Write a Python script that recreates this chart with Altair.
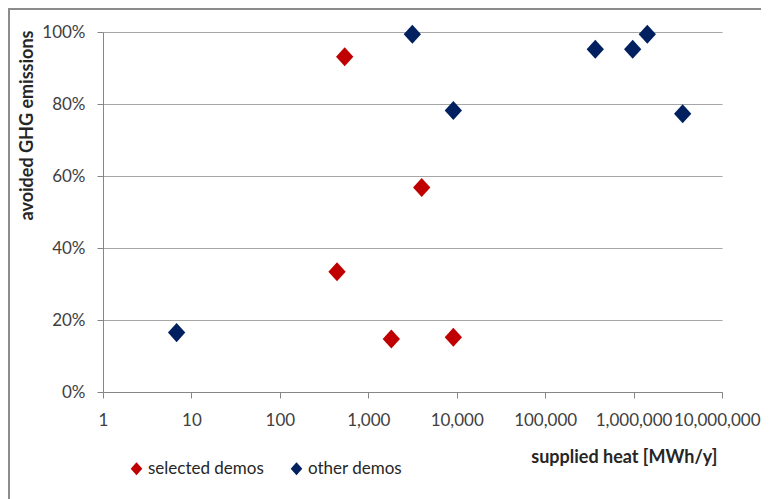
import altair as alt
import pandas as pd

# ---- data ----
selected_heat = [541, 4018, 443, 1822, 9160]
selected_avoided = [0.931, 0.568, 0.334, 0.147, 0.152]
other_heat = [6.8, 3150, 9160, 369000, 977000, 1430000, 3590000]
other_avoided = [0.165, 0.994, 0.782, 0.952, 0.952, 0.994, 0.773]
series_names = ["selected demos", "other demos"]
series_colors = ["#C00000", "#002060"]
x_ticks = [1, 10, 100, 1000, 10000, 100000, 1000000, 10000000]
y_ticks = [0, 0.2, 0.4, 0.6, 0.8, 1.0]

df = pd.DataFrame(
    {
        "heat": selected_heat + other_heat,
        "avoided": selected_avoided + other_avoided,
        "series": [series_names[0]] * len(selected_heat) + [series_names[1]] * len(other_heat),
    }
)

FONT = "Lato"
DIAMOND = "M0,-1.1L1,0L0,1.1L-1,0Z"
W, H = 619, 360

points = alt.Chart(df).mark_point(
    shape=DIAMOND, filled=True, size=300, opacity=1, strokeWidth=0
).encode(
    x=alt.X(
        "heat:Q",
        scale=alt.Scale(type="log", domain=[1, 1e7], nice=False),
        axis=alt.Axis(
            values=x_ticks,
            format=",",
            grid=False,
            labelFlush=False,
            labelOverlap=False,
            labelAlign={"expr": "datum.value >= 9999999 ? 'right' : 'center'"},
            labelOffset={"expr": "datum.value >= 9999999 ? 38 : 0"},
            tickSize=6,
            labelPadding=14,
            labelFontSize=17,
            labelColor="#404040",
            labelFont=FONT,
            domainColor="#868686",
            tickColor="#868686",
            title="supplied heat [MWh/y]",
            titleFont=FONT,
            titleFontSize=18,
            titleFontWeight="bold",
            titleColor="#262626",
            titleX=614,
            titleY=65,
            titleAlign="right",
            titleBaseline="middle",
            titleAnchor="end",
        ),
    ),
    y=alt.Y(
        "avoided:Q",
        scale=alt.Scale(domain=[0, 1], nice=False),
        axis=alt.Axis(
            values=y_ticks,
            format=".0%",
            grid=True,
            gridColor="#a6a6a6",
            tickSize=6,
            labelPadding=12,
            labelFontSize=17,
            labelColor="#404040",
            labelFont=FONT,
            domainColor="#868686",
            tickColor="#868686",
            title="avoided GHG emissions",
            titleFont=FONT,
            titleFontSize=18,
            titleFontWeight="bold",
            titleColor="#262626",
            titleX=-76,
            titleY=93,
            titleAngle=270,
            titleAlign="center",
            titleBaseline="middle",
        ),
    ),
    color=alt.Color(
        "series:N",
        scale=alt.Scale(domain=series_names, range=series_colors),
        legend=alt.Legend(
            orient="none",
            legendX=25,
            legendY=428,
            direction="horizontal",
            title=None,
            labelFont=FONT,
            labelFontSize=17,
            labelColor="#262626",
            symbolType=DIAMOND,
            symbolSize=135,
            symbolStrokeWidth=0,
            columnPadding=24,
            labelOffset=3,
            padding=0,
        ),
    ),
)

border_df = pd.DataFrame({"k": [0]})
left_border = alt.Chart(border_df).mark_rule(color="#8c8c8c", strokeWidth=2).encode(
    x=alt.value(-94), y=alt.value(-23), y2=alt.value(H + 200)
)
top_border = alt.Chart(border_df).mark_rule(color="#8c8c8c", strokeWidth=2).encode(
    x=alt.value(-95), x2=alt.value(W + 200), y=alt.value(-23)
)

chart = alt.layer(left_border, top_border, points).properties(
    width=W,
    height=H,
    autosize=alt.AutoSizeParams(type="none"),
    padding={"left": 95, "top": 24, "right": 39, "bottom": 107},
    background="white",
).configure_view(stroke=None)

chart.save("out.html", embed_options={"renderer": "svg", "actions": False})
